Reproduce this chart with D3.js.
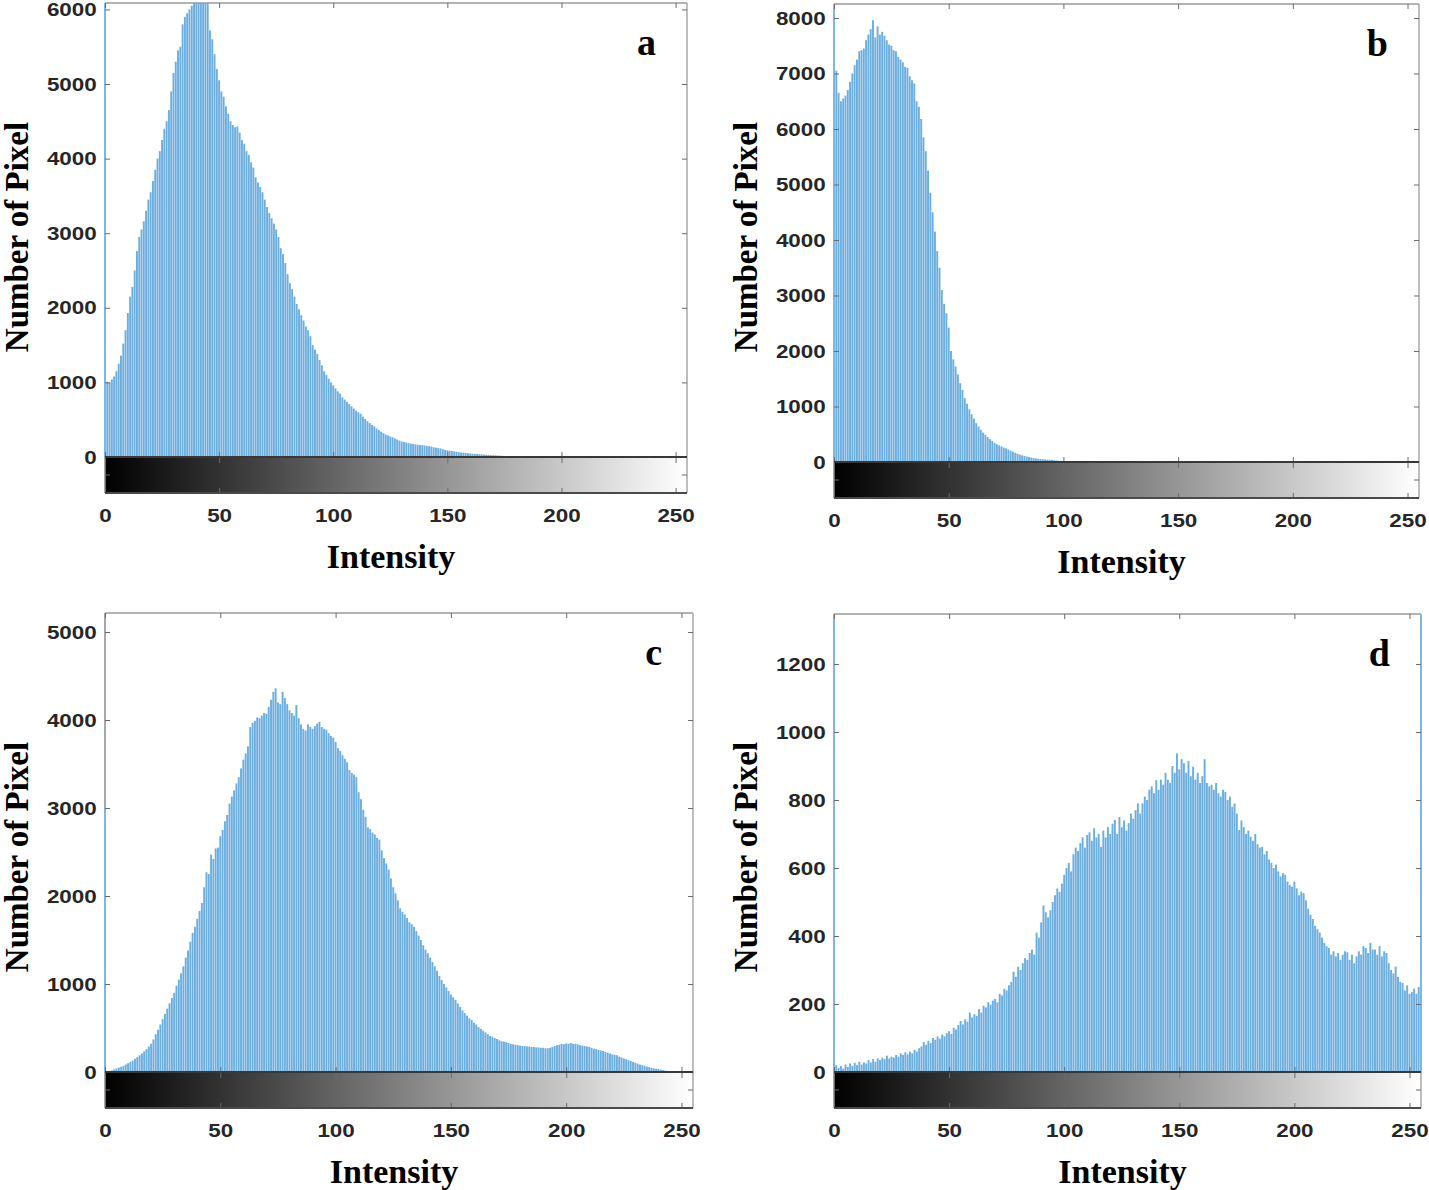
<!DOCTYPE html>
<html>
<head>
<meta charset="utf-8">
<script src="https://cdn.jsdelivr.net/npm/d3@7"></script>
<style>
  body { margin: 0; background: #fff; }
  .ax text { font-family: "Liberation Sans", Arial, sans-serif; font-weight: bold; font-size: 19px; fill: #262626; }
  .ax line { stroke: #6b6b6b; }
  .lbl { font-family: "Liberation Serif", "Times New Roman", serif; font-weight: bold; fill: #000; }
</style>
</head>
<body>
<svg id="fig" width="1429" height="1190"></svg>
<script>
// intensity bins 0..255 (categories of the histogram)
var intensity = d3.range(256);

// ---- pixel counts per intensity ----
var countsA = [
  900,1010,1000,1040,1080,1150,1250,1360,1520,1700,1930,2150,2280,2500,2760,2950,
  3050,3160,3300,3450,3550,3700,3850,4000,4100,4250,4400,4500,4650,4900,5150,5300,
  5450,5500,5800,5900,5950,6000,6050,6150,6250,6300,6280,6200,6150,6100,5720,5600,
  5400,5200,5050,4900,4830,4700,4600,4500,4450,4420,4430,4350,4250,4200,4100,4050,
  3950,3880,3750,3680,3620,3550,3450,3350,3270,3200,3130,3050,2950,2800,2720,2600,
  2450,2330,2250,2150,2050,1980,1900,1830,1750,1700,1620,1500,1440,1380,1300,1230,
  1150,1100,1050,1000,960,920,880,850,800,770,740,710,680,650,620,600,
  580,540,510,480,455,430,410,380,360,340,320,300,290,275,265,250,
  235,220,210,200,195,185,180,175,170,165,160,160,155,150,145,140,
  130,125,120,115,105,95,90,85,80,75,70,65,60,58,55,52,
  48,45,42,40,37,35,33,30,28,25,23,22,20,18,16,14,
  12,11,10,9,8,7,6,5,5,4,3,3,3,2,2,2,
  2,1,1,1,0,0,0,0,0,0,0,0,0,0,0,0,
  0,0,0,0,0,0,0,0,0,0,0,0,0,0,0,0,
  0,0,0,0,0,0,0,0,0,0,0,0,0,0,0,0,
  0,0,0,0,0,0,0,0,0,0,0,0,0,0,0,0
];
var countsB = [
  8400,7050,6650,6500,6550,6600,6700,6850,7000,7150,7250,7400,7420,7450,7600,7700,
  7800,7960,7650,7850,7700,7750,7680,7600,7520,7500,7420,7400,7300,7250,7200,7120,
  7100,6950,6880,6820,6500,6400,6180,5850,5600,5250,4850,4500,4150,3800,3500,3100,
  2850,2680,2420,2000,1850,1720,1580,1420,1300,1150,1050,950,860,780,700,640,
  580,530,490,450,410,380,345,320,300,280,260,245,225,205,185,165,
  150,135,120,110,100,90,80,72,65,60,55,50,48,44,40,36,
  32,28,24,20,16,13,10,8,6,5,4,3,2,2,1,1,
  0,0,0,0,0,0,0,0,0,0,0,0,0,0,0,0,
  0,0,0,0,0,0,0,0,0,0,0,0,0,0,0,0,
  0,0,0,0,0,0,0,0,0,0,0,0,0,0,0,0,
  0,0,0,0,0,0,0,0,0,0,0,0,0,0,0,0,
  0,0,0,0,0,0,0,0,0,0,0,0,0,0,0,0,
  0,0,0,0,0,0,0,0,0,0,0,0,0,0,0,0,
  0,0,0,0,0,0,0,0,0,0,0,0,0,0,0,0,
  0,0,0,0,0,0,0,0,0,0,0,0,0,0,0,0,
  0,0,0,0,0,0,0,0,0,0,0,0,0,0,0,0
];
var countsC = [
  5,8,12,18,30,40,50,60,70,85,100,115,130,150,170,190,
  210,235,260,290,320,370,430,480,540,600,660,720,780,840,900,980,
  1050,1120,1200,1300,1380,1480,1580,1650,1740,1830,1920,2100,2270,2250,2470,2420,
  2540,2550,2680,2750,2850,2920,3050,3130,3200,3280,3350,3450,3550,3620,3700,3920,
  3970,3990,4030,4020,4050,4080,4070,4150,4230,4320,4360,4200,4180,4320,4250,4180,
  4110,4080,4050,4170,4020,3950,3900,3880,3950,3920,3900,3930,3960,3980,3920,3900,
  3890,3850,3820,3800,3750,3680,3650,3600,3560,3520,3430,3400,3380,3350,3180,3100,
  2980,2900,2780,2760,2720,2700,2660,2640,2520,2430,2370,2300,2200,2100,2030,1950,
  1860,1820,1790,1750,1700,1680,1650,1600,1550,1500,1440,1390,1350,1300,1250,1200,
  1150,1090,1045,1000,960,920,880,850,820,780,740,700,670,640,610,590,
  560,540,510,490,470,450,430,410,400,385,375,360,350,345,340,330,
  320,315,310,305,300,295,295,290,290,285,285,280,280,275,275,270,
  270,275,285,295,305,310,320,315,325,320,330,320,320,315,305,300,
  295,290,285,275,265,260,250,245,240,230,220,210,200,195,190,175,
  165,155,145,135,125,115,105,95,85,78,70,62,55,48,42,38,
  35,28,22,17,12,8,6,4,3,2,2,1,1,1,0,0
];
var countsD = [
  15,20,12,18,10,22,15,25,18,27,20,30,22,28,25,35,
  28,38,30,40,35,42,38,48,40,45,42,50,45,55,50,58,
  52,60,55,65,60,70,75,88,80,92,85,100,95,105,98,110,
  105,114,120,112,130,125,138,150,140,155,148,175,160,170,165,185,
  175,195,190,205,198,210,215,205,230,225,245,240,255,265,295,280,
  310,300,320,335,330,350,360,345,410,395,440,490,470,455,476,500,
  520,540,530,554,580,600,615,590,640,660,650,673,690,660,697,705,
  680,717,690,700,662,710,690,720,700,730,741,700,750,720,740,710,
  732,760,745,770,790,760,790,810,800,830,840,820,858,830,860,845,
  880,860,850,900,880,937,890,920,908,880,915,870,898,860,880,850,
  870,920,850,840,845,830,850,820,810,830,824,800,810,780,790,760,
  712,740,720,700,710,692,680,700,670,660,662,640,650,625,615,600,
  610,590,575,585,580,560,550,545,560,540,520,530,526,505,480,462,
  450,430,420,410,395,380,370,365,345,355,340,350,330,345,355,352,
  330,345,320,340,355,345,370,365,350,380,360,360,345,370,340,355,
  350,320,300,290,310,280,265,262,240,255,230,235,245,230,250,340
];

// tick labels
var xTicks = [0, 50, 100, 150, 200, 250];
var yTicksA = [0, 1000, 2000, 3000, 4000, 5000, 6000];
var yTicksB = [0, 1000, 2000, 3000, 4000, 5000, 6000, 7000, 8000];
var yTicksC = [0, 1000, 2000, 3000, 4000, 5000];
var yTicksD = [0, 200, 400, 600, 800, 1000, 1200];
// upper y limit of each panel
var yLimits = [6086, 8252, 5216, 1347];
var panelLetters = ["a", "b", "c", "d"];

// ---- layout ----
var svg = d3.select("#fig");
var defs = svg.append("defs");
var ramp = defs.append("linearGradient").attr("id", "grayRamp")
    .attr("x1", "0%").attr("x2", "100%").attr("y1", "0%").attr("y2", "0%");
ramp.append("stop").attr("offset", "0%").attr("stop-color", "#000");
ramp.append("stop").attr("offset", "100%").attr("stop-color", "#fff");

const barColor = "#6caee0";
const edgeBlue = "#7db8e4";
const cbHeight = 36;

var panels = [
  {counts: countsA, yTicks: yTicksA, left: 105, right: 687, top: 3,   zero: 457,  labelY: 237, blueTo: yLimits[0], blueRight: false},
  {counts: countsB, yTicks: yTicksB, left: 834, right: 1419, top: 4,  zero: 462,  labelY: 237, blueTo: yLimits[1], blueRight: false},
  {counts: countsC, yTicks: yTicksC, left: 105, right: 693, top: 613, zero: 1072, labelY: 857, blueTo: 3000,       blueRight: false},
  {counts: countsD, yTicks: yTicksD, left: 834, right: 1421, top: 614, zero: 1072, labelY: 857, blueTo: yLimits[3], blueRight: true}
];

function drawPanel(p, i) {
    var w = p.right - p.left;
    var h = p.zero - p.top;
    var g = svg.append("g").attr("transform", `translate(${p.left},${p.top})`);

    var x = d3.scaleLinear().domain([0, 255]).range([0, w]);
    var y = d3.scaleLinear().domain([0, yLimits[i]]).range([h, 0]);

    defs.append("clipPath").attr("id", "clip" + i)
        .append("rect").attr("width", w).attr("height", h);

    // histogram stems
    var bw = (x(1) - x(0)) * 0.84;
    var bins = p.counts.map((c, k) => ({v: intensity[k], c: c}));
    g.append("g").attr("clip-path", `url(#clip${i})`)
        .selectAll("rect").data(bins).join("rect")
        .attr("x", d => x(d.v) - bw / 2)
        .attr("y", d => y(d.c))
        .attr("width", bw)
        .attr("height", d => h - y(d.c))
        .attr("fill", barColor);

    // gray colorbar under the axis
    g.append("rect").attr("x", 0).attr("y", h).attr("width", w).attr("height", cbHeight)
        .attr("fill", "url(#grayRamp)");

    // frame
    function line(x1, y1, x2, y2, col, sw) {
        g.append("line").attr("x1", x1).attr("y1", y1).attr("x2", x2).attr("y2", y2)
            .attr("stroke", col).attr("stroke-width", sw);
    }
    line(0, 0, w, 0, "#9a9a9a", 1.5);
    line(w, 0, w, h + cbHeight, "#a8a8a8", 1.5);
    line(0, 0, 0, h + cbHeight, "#8a8a8a", 1.5);
    line(0, y(0), 0, y(p.blueTo), edgeBlue, 2);
    if (p.blueRight) line(w, 0, w, h, edgeBlue, 2);

    // y axis (left, labelled)
    var yg = g.append("g").attr("class", "ax")
        .call(d3.axisLeft(y).tickValues(p.yTicks).tickSize(-5).tickSizeOuter(0)
            .tickPadding(7).tickFormat(d3.format("d")));
    yg.select(".domain").remove();
    yg.selectAll("text").attr("x", -7).attr("transform", "scale(1.18,1)");

    // mirrored ticks right and top
    var rg = g.append("g").attr("class", "ax").attr("transform", `translate(${w},0)`)
        .call(d3.axisRight(y).tickValues(p.yTicks).tickSize(-5).tickFormat(""));
    rg.select(".domain").remove();
    var tg = g.append("g").attr("class", "ax")
        .call(d3.axisTop(x).tickValues(xTicks).tickSize(-5).tickFormat(""));
    tg.select(".domain").remove();

    // ticks crossing the zero line
    var zg1 = g.append("g").attr("class", "ax").attr("transform", `translate(0,${h})`)
        .call(d3.axisBottom(x).tickValues(xTicks).tickSize(6).tickFormat(""));
    zg1.select(".domain").remove();
    var zg2 = g.append("g").attr("class", "ax").attr("transform", `translate(0,${h})`)
        .call(d3.axisTop(x).tickValues(xTicks).tickSize(5).tickFormat(""));
    zg2.select(".domain").remove();

    // x axis under the colorbar
    var xg = g.append("g").attr("class", "ax").attr("transform", `translate(0,${h + cbHeight})`)
        .call(d3.axisBottom(x).tickValues(xTicks).tickSize(-5).tickSizeOuter(0)
            .tickPadding(16).tickFormat(d3.format("d")));
    xg.select(".domain").remove();
    xg.selectAll("text").attr("transform", "scale(1.18,1)");

    // small ticks at the colorbar sides
    line(w, h + cbHeight / 2, w - 5, h + cbHeight / 2, "#6b6b6b", 1);
    line(0, h + cbHeight / 2, 5, h + cbHeight / 2, "#6b6b6b", 1);

    // zero line and colorbar bottom
    line(0, h, w, h, "#383838", 2);
    line(0, h + cbHeight, w, h + cbHeight, "#4a4a4a", 2);

    // labels
    g.append("text").attr("class", "lbl")
        .attr("x", w - 31).attr("y", 52)
        .attr("text-anchor", "end").style("font-size", "38px")
        .text(panelLetters[i]);

    g.append("text").attr("class", "lbl")
        .attr("x", w / 2 - 5).attr("y", h + cbHeight + 75)
        .attr("text-anchor", "middle").style("font-size", "34px")
        .text("Intensity");

    g.append("text").attr("class", "lbl")
        .attr("transform", `translate(-77,${p.labelY - p.top}) rotate(-90)`)
        .attr("text-anchor", "middle").style("font-size", "33px")
        .text("Number of Pixel");
}

panels.forEach(drawPanel);
</script>
</body>
</html>
